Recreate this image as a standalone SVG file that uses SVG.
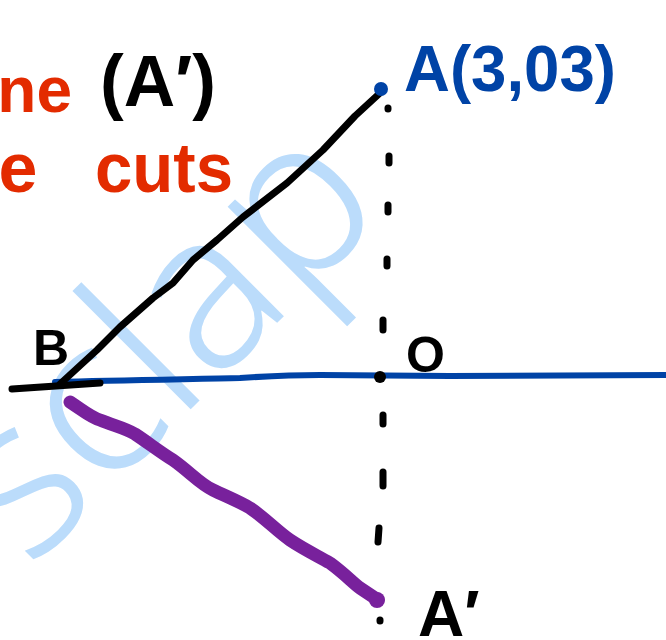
<svg xmlns="http://www.w3.org/2000/svg" width="666" height="640" viewBox="0 0 666 640">
<style>
.lbl{font-family:"Liberation Sans",Arial,sans-serif;font-weight:bold}
.blk{fill:#000}
.red{fill:#e32b00;font-family:"Liberation Sans",Arial,sans-serif;font-weight:bold}
.blu{fill:#0043a6}
.wm{fill:#bbdcfb;font-family:"Noto Sans",sans-serif;font-weight:300}
.ln{fill:none;stroke-linecap:round;stroke-linejoin:round}
</style>
<rect width="666" height="640" fill="#fff"/>
<g id="watermark">
<text class="wm" x="0" y="0" font-size="220" transform="translate(30,570) rotate(-45)">sclap</text>
</g>
<g id="notes">
<text class="red" x="72" y="112" font-size="64" text-anchor="end">ne</text>
<text class="red" font-size="70" y="192"><tspan x="57" text-anchor="end">e</tspan> <tspan x="95" textLength="138" lengthAdjust="spacingAndGlyphs">cuts</tspan></text>
<text class="lbl blk" x="100" y="106" font-size="72" textLength="116" lengthAdjust="spacingAndGlyphs">(A′)</text>
</g>
<g id="connectors">
<path class="ln" d="M55,382 C120,380 200,379 240,378 C270,376 290,375 320,375 C360,375 400,376 450,376 L666,375" stroke="#0043a6" stroke-width="6"/>
<path class="ln" d="M12,389 L100,383" stroke="#000" stroke-width="7"/>
<path class="ln" d="M60,384 L97,350 L120,327 L153,298 L173,283 L193,260 L217,240 L243,217 L287,183 L323,150 L355,116 L380,93" stroke="#000" stroke-width="7"/>
<path class="ln" d="M70,402 C85,412 92,418 100,420 C115,426 125,428 135,434 C150,444 160,452 173,460 C190,472 200,484 213,490 C230,498 240,502 250,508 C265,518 278,532 290,540 C305,550 318,556 330,563 C345,574 352,582 360,588 L378,600" stroke="#78219c" stroke-width="13"/>
<g stroke="#000" stroke-width="7" class="ln">
<path d="M388,108 L388,109"/>
<path d="M389,156 L389,163"/>
<path d="M388,205 L388,212"/>
<path d="M387,259 L387,266"/>
<path d="M383,320 L383,330"/>
<path d="M383,415 L383,424"/>
<path d="M383,472 L383,486"/>
<path d="M379,528 L378,542"/>
<path d="M380,620 L380,621"/>
</g>
</g>
<g id="A">
<circle cx="381" cy="89" r="7" fill="#0043a6"/>
<text class="lbl blu" x="404" y="91" font-size="64" textLength="212" lengthAdjust="spacingAndGlyphs">A(3,03)</text>
</g>
<g id="B">
<text class="lbl blk" x="33" y="365" font-size="50">B</text>
</g>
<g id="O">
<circle cx="380" cy="377" r="6" fill="#000"/>
<text class="lbl blk" x="406" y="372" font-size="50">O</text>
</g>
<g id="A-prime">
<circle cx="377" cy="600" r="8" fill="#78219c"/>
<text class="lbl blk" x="418" y="636" font-size="64">A′</text>
</g>
</svg>
